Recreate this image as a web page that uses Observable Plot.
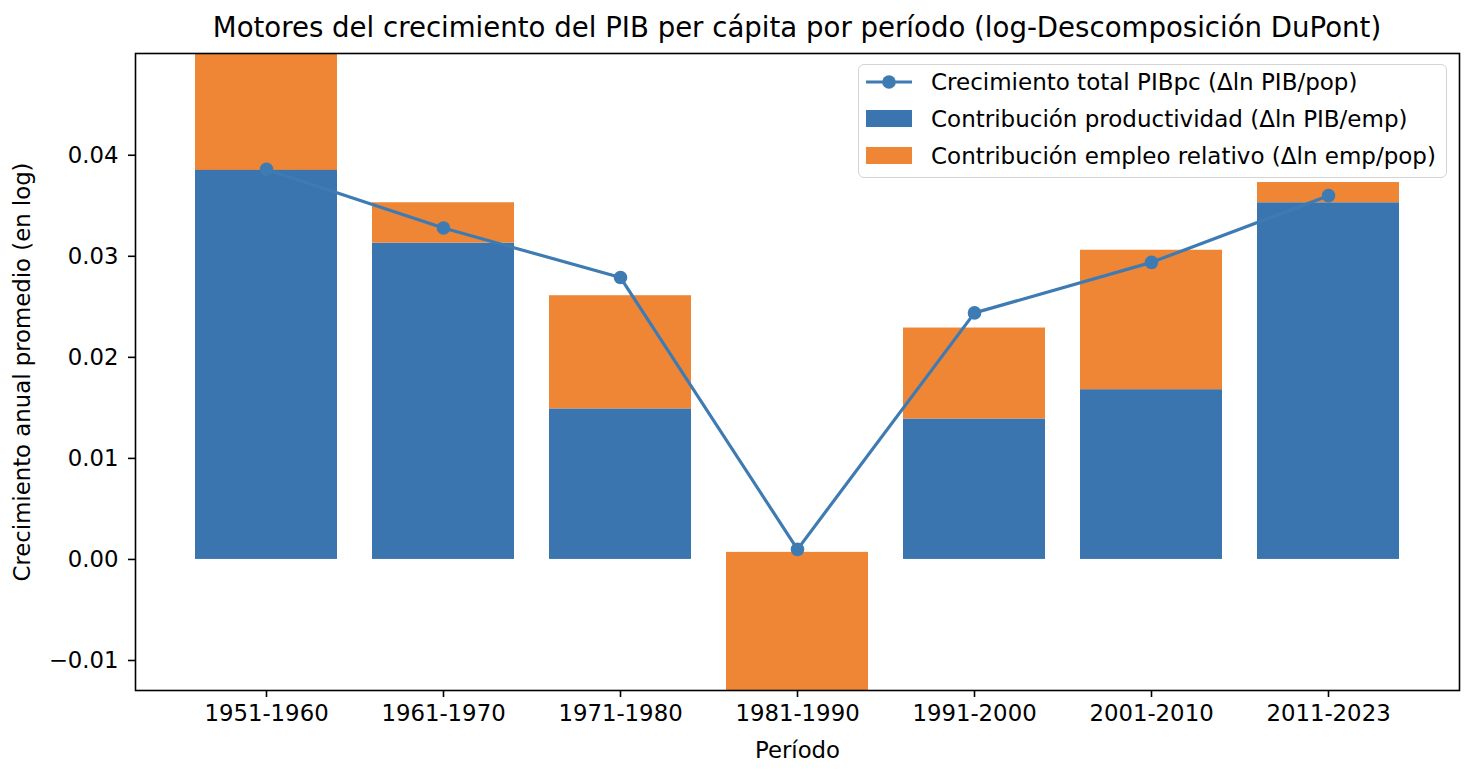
<!DOCTYPE html>
<html>
<head>
<meta charset="utf-8">
<script src="https://cdn.jsdelivr.net/npm/d3@7"></script>
<script src="https://cdn.jsdelivr.net/npm/@observablehq/plot@0.6"></script>
<style>
  html, body { margin: 0; padding: 0; background: #fff; }
  #wrap { position: relative; width: 1478px; height: 774px; font-family: "DejaVu Sans", sans-serif; color: #000; }
  #title { height: 46px; box-sizing: border-box; padding-top: 13px; font-size: 27.6px; line-height: 30px; text-align: center; padding-left: 116px; white-space: nowrap; }
  #legend { position: absolute; left: 858px; top: 64px; width: 589px; height: 114px; box-sizing: border-box;
            border: 1.5px solid #d4d4d4; border-radius: 6px; background: rgba(255,255,255,0.85); font-size: 23px; }
  .row { position: absolute; left: 0; height: 37px; display: flex; align-items: center; white-space: nowrap; }
  .row svg { margin-left: 7px; margin-right: 19px; }
</style>
</head>
<body>
<div id="wrap">
  <div id="title">Motores del crecimiento del PIB per cápita por período (log-Descomposición DuPont)</div>
  <div id="chart"></div>
  <div id="legend"></div>
</div>
<script>
const periods = ["1951-1960", "1961-1970", "1971-1980", "1981-1990", "1991-2000", "2001-2010", "2011-2023"];
const productividad = [0.0625, 0.0313, 0.0149, -0.0195, 0.0139, 0.0168, 0.0353];
const empleo = [-0.0240, 0.0040, 0.0112, 0.0202, 0.0090, 0.0138, 0.0020];
const totalPIBpc = [0.0386, 0.0328, 0.0279, 0.0010, 0.0244, 0.0294, 0.0360];
const yTicks = [-0.01, 0.00, 0.01, 0.02, 0.03, 0.04];
const seriesNames = ["Crecimiento total PIBpc (Δln PIB/pop)", "Contribución productividad (Δln PIB/emp)", "Contribución empleo relativo (Δln emp/pop)"];

const colBlue = "#3a75af";
const colOrange = "#ef8636";
const colLine = "#3f7bb3";

const data = periods.map((p, i) => ({
  period: p,
  prod: productividad[i],
  top: productividad[i] + empleo[i],
  tot: totalPIBpc[i]
}));

const fmt = d => (d < 0 ? "\u2212" : "") + Math.abs(d).toFixed(2);

const chart = Plot.plot({
  width: 1478,
  height: 728,
  marginLeft: 135,
  marginRight: 19,
  marginTop: 7,
  marginBottom: 84,
  style: { fontFamily: "DejaVu Sans, sans-serif", fontSize: "22.8px", color: "#000", background: "white", overflow: "visible" },
  x: { type: "band", domain: periods, paddingInner: 0.2, paddingOuter: 0.34 },
  y: { domain: [-0.01297, 0.05007] },
  marks: [
    Plot.barY(data, { x: "period", y1: 0, y2: "prod", fill: colBlue, clip: true }),
    Plot.barY(data, { x: "period", y1: "prod", y2: "top", fill: colOrange, clip: true }),
    Plot.line(data, { x: "period", y: "tot", stroke: colLine, strokeWidth: 3.2 }),
    Plot.dot(data, { x: "period", y: "tot", r: 6.8, fill: colLine, stroke: "none" }),
    Plot.frame({ stroke: "#000", strokeWidth: 1.6 }),
    Plot.axisX({ tickSize: 7, tickPadding: 7, strokeWidth: 1.6, label: "Período", labelAnchor: "center", labelOffset: 67, labelArrow: "none" }),
    Plot.axisY({ ticks: yTicks, tickFormat: fmt, tickSize: 7, tickPadding: 10, strokeWidth: 1.6, label: "Crecimiento anual promedio (en log)", labelAnchor: "center", labelOffset: 122, labelArrow: "none" })
  ]
});
document.getElementById("chart").appendChild(chart);

// legend
const legend = document.getElementById("legend");
const swatches = [
  `<svg width="46" height="20"><line x1="0" y1="10" x2="46" y2="10" stroke="${colLine}" stroke-width="3.2"/><circle cx="23" cy="10" r="6.8" fill="${colLine}"/></svg>`,
  `<svg width="46" height="17"><rect x="0" y="0" width="46" height="17" fill="${colBlue}"/></svg>`,
  `<svg width="46" height="17"><rect x="0" y="0" width="46" height="17" fill="${colOrange}"/></svg>`
];
seriesNames.forEach((name, i) => {
  const row = document.createElement("div");
  row.className = "row";
  row.style.top = (-2 + i * 37) + "px";
  row.innerHTML = swatches[i] + `<span>${name}</span>`;
  legend.appendChild(row);
});
</script>
</body>
</html>
